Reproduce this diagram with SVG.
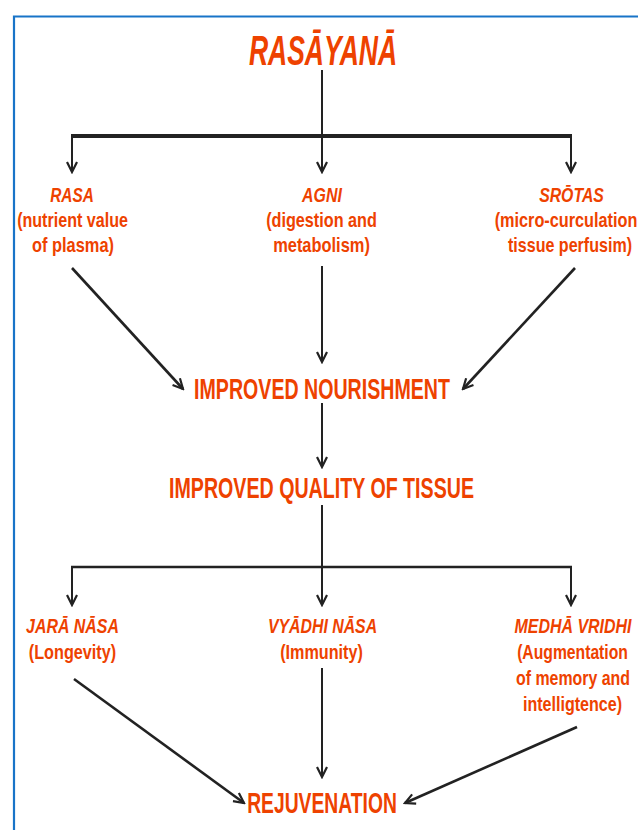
<svg xmlns="http://www.w3.org/2000/svg" width="638" height="830" viewBox="0 0 638 830">
<defs>
<style>
.t{font-family:"Liberation Sans",Arial,sans-serif;font-weight:bold;fill:#EE4200;text-anchor:middle}
.i{font-style:italic}
.c{stroke:#222;stroke-width:2;fill:none}
.d{stroke:#222;stroke-width:2.6;fill:none}
</style>
<marker id="ah" viewBox="-12 -7 14 14" refX="0" refY="0" markerWidth="14" markerHeight="14" markerUnits="userSpaceOnUse" orient="auto">
<path d="M-10,-5 L0,0 L-10,5" fill="none" stroke="#222" stroke-width="2.2"/>
</marker>
</defs>
<rect width="638" height="830" fill="#fff"/>
<path d="M14,840 V16.5 H650" fill="none" stroke="#1874C8" stroke-width="2.2"/>
<g id="connectors">
<line class="c" x1="322" y1="70" x2="322" y2="136"/>
<line x1="71" y1="136" x2="572" y2="136" stroke="#222" stroke-width="4"/>
<line class="c" x1="72" y1="136" x2="72" y2="172" marker-end="url(#ah)"/>
<line class="c" x1="322" y1="136" x2="322" y2="172" marker-end="url(#ah)"/>
<line class="c" x1="571" y1="136" x2="571" y2="172" marker-end="url(#ah)"/>
<line class="d" x1="72" y1="268" x2="183" y2="389" marker-end="url(#ah)"/>
<line class="c" x1="322" y1="266" x2="322" y2="362" marker-end="url(#ah)"/>
<line class="d" x1="575" y1="268" x2="463" y2="389" marker-end="url(#ah)"/>
<line class="c" x1="322" y1="403" x2="322" y2="467" marker-end="url(#ah)"/>
<line class="c" x1="322" y1="505" x2="322" y2="567"/>
<line x1="71" y1="567" x2="572" y2="567" stroke="#222" stroke-width="2.6"/>
<line class="c" x1="72" y1="567" x2="72" y2="605" marker-end="url(#ah)"/>
<line class="c" x1="322" y1="567" x2="322" y2="605" marker-end="url(#ah)"/>
<line class="c" x1="571" y1="567" x2="571" y2="605" marker-end="url(#ah)"/>
<line class="d" x1="74" y1="679" x2="244" y2="803" marker-end="url(#ah)"/>
<line class="c" x1="322" y1="668" x2="322" y2="777" marker-end="url(#ah)"/>
<line class="d" x1="577" y1="727" x2="405" y2="803" marker-end="url(#ah)"/>
</g>
<g id="rasayana">
<text class="t i" transform="translate(323,65) scale(0.78,1)" font-size="42" textLength="190" lengthAdjust="spacingAndGlyphs">RASĀYANĀ</text>
</g>
<g id="rasa">
<text class="t i" transform="translate(72,202) scale(0.78,1)" font-size="21" textLength="56" lengthAdjust="spacingAndGlyphs">RASA</text>
<text class="t" transform="translate(72.5,227) scale(0.78,1)" font-size="20" textLength="142" lengthAdjust="spacingAndGlyphs">(nutrient value</text>
<text class="t" transform="translate(73,252) scale(0.78,1)" font-size="20" textLength="105" lengthAdjust="spacingAndGlyphs">of plasma)</text>
</g>
<g id="agni">
<text class="t i" transform="translate(322,202) scale(0.78,1)" font-size="21" textLength="51" lengthAdjust="spacingAndGlyphs">AGNI</text>
<text class="t" transform="translate(321.5,227) scale(0.78,1)" font-size="20" textLength="142" lengthAdjust="spacingAndGlyphs">(digestion and</text>
<text class="t" transform="translate(321.5,252) scale(0.78,1)" font-size="20" textLength="124" lengthAdjust="spacingAndGlyphs">metabolism)</text>
</g>
<g id="srotas">
<text class="t i" transform="translate(571.5,202) scale(0.78,1)" font-size="21" textLength="83" lengthAdjust="spacingAndGlyphs">SRŌTAS</text>
<text class="t" transform="translate(566,227) scale(0.78,1)" font-size="20" textLength="183" lengthAdjust="spacingAndGlyphs">(micro-curculation</text>
<text class="t" transform="translate(570,252) scale(0.78,1)" font-size="20" textLength="159" lengthAdjust="spacingAndGlyphs">tissue perfusim)</text>
</g>
<g id="nourishment">
<text class="t" transform="translate(322,399) scale(0.78,1)" font-size="30" textLength="328" lengthAdjust="spacingAndGlyphs">IMPROVED NOURISHMENT</text>
</g>
<g id="quality">
<text class="t" transform="translate(321.5,498) scale(0.78,1)" font-size="29" textLength="391" lengthAdjust="spacingAndGlyphs">IMPROVED QUALITY OF TISSUE</text>
</g>
<g id="jara">
<text class="t i" transform="translate(72.5,633) scale(0.78,1)" font-size="21" textLength="119" lengthAdjust="spacingAndGlyphs">JARĀ NĀSA</text>
<text class="t" transform="translate(72.5,659) scale(0.78,1)" font-size="20" textLength="112" lengthAdjust="spacingAndGlyphs">(Longevity)</text>
</g>
<g id="vyadhi">
<text class="t i" transform="translate(322.5,633) scale(0.78,1)" font-size="21" textLength="140" lengthAdjust="spacingAndGlyphs">VYĀDHI NĀSA</text>
<text class="t" transform="translate(321.5,659) scale(0.78,1)" font-size="20" textLength="106" lengthAdjust="spacingAndGlyphs">(Immunity)</text>
</g>
<g id="medha">
<text class="t i" transform="translate(573,633) scale(0.78,1)" font-size="21" textLength="150" lengthAdjust="spacingAndGlyphs">MEDHĀ VRIDHI</text>
<text class="t" transform="translate(572.5,659) scale(0.78,1)" font-size="20" textLength="142" lengthAdjust="spacingAndGlyphs">(Augmentation</text>
<text class="t" transform="translate(573,685) scale(0.78,1)" font-size="20" textLength="146" lengthAdjust="spacingAndGlyphs">of memory and</text>
<text class="t" transform="translate(572.5,711) scale(0.78,1)" font-size="20" textLength="127" lengthAdjust="spacingAndGlyphs">intelligtence)</text>
</g>
<g id="rejuvenation">
<text class="t" transform="translate(322,813) scale(0.78,1)" font-size="30" textLength="192" lengthAdjust="spacingAndGlyphs">REJUVENATION</text>
</g>
</svg>
